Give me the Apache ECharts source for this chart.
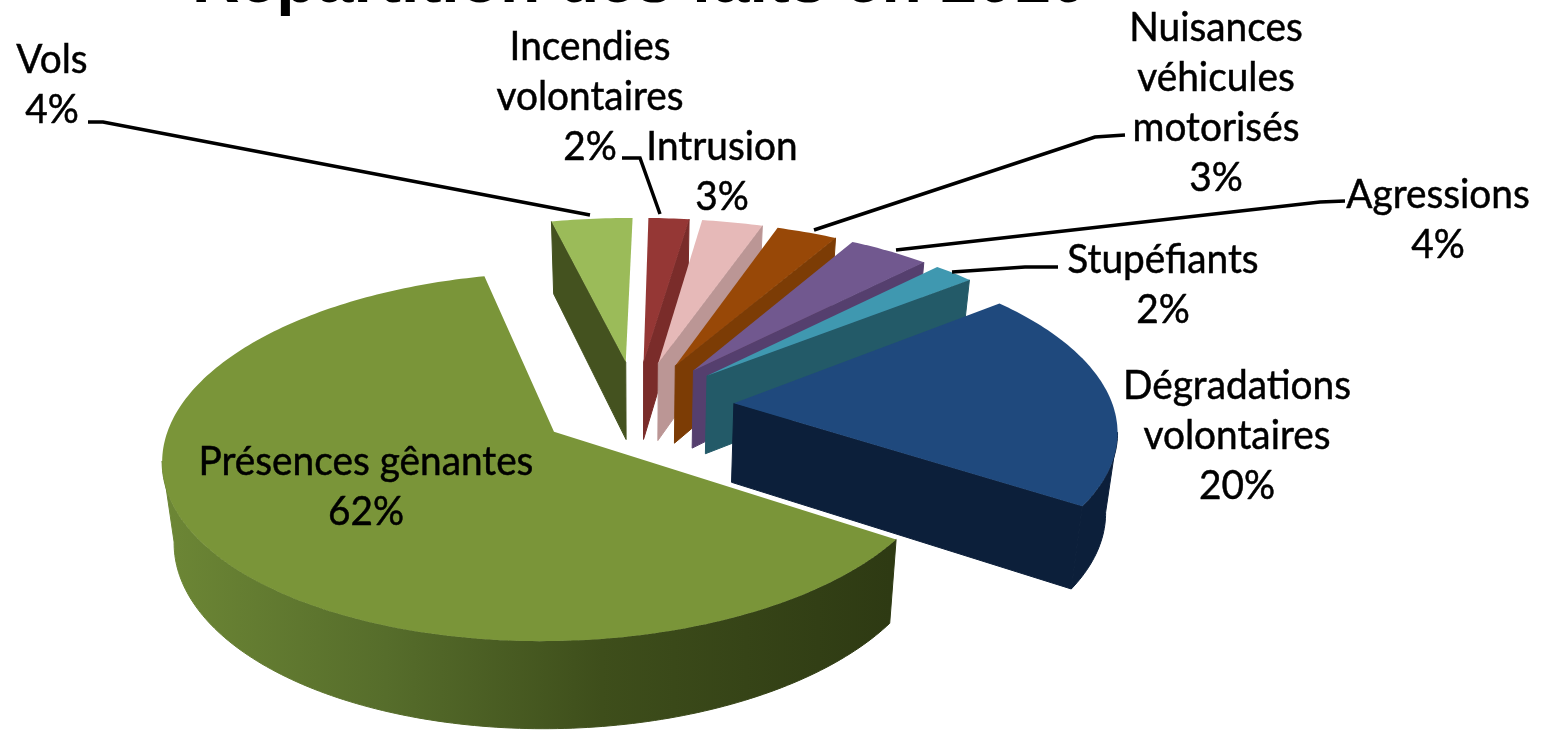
<!DOCTYPE html>
<html lang="fr">
  <head>
    <meta charset="UTF-8" />
    <title>Répartition des faits en 2010</title>
    <script src="https://cdnjs.cloudflare.com/ajax/libs/echarts/6.0.0/echarts.min.js"></script>
    <style>
      html, body { margin: 0; background: #fff; }
      #main { width: 1548px; height: 731px; }
    </style>
  </head>
  <body>
    <div id="main"></div>
    <script>
      const titleText = "Répartition des faits en 2010";
      const categories = ["Vols", "Incendies\nvolontaires", "Intrusion", "Nuisances\nvéhicules\nmotorisés", "Agressions", "Stupéfiants", "Dégradations\nvolontaires", "Présences gênantes"];
      const values = [4, 2, 3, 3, 4, 2, 20, 62];

      const topColors = ["#9bbb59", "#953735", "#e6b9b8", "#984807", "#71588f", "#3f98b0", "#1f497d", "#7a9539"];
      const sideColors = ["#44521f", "#7a2c2a", "#bb9695", "#7c3c05", "#553f6e", "#235a68", "#0c1f3a", "#4a5c24"];

      // label centres and leader lines, in page pixels
      const labelPos = [[52, 85], [590, 97], [722, 172], [1216, 103], [1438, 220], [1163, 285], [1237, 436], [366, 487]];
      const leaders = [
        [[88, 122], [103, 122], [590, 215]],
        [[622, 158], [640, 158], [660, 214]],
        null,
        [[1125, 135], [1095, 137], [814, 230]],
        [[1345, 201], [1320, 202], [896, 250]],
        [[1058, 267], [1025, 267], [952, 272]],
        null,
        null,
      ];

      // perspective model of the tilted pie, radius 1 on the ground plane
      const X0 = 636, Y0 = 405.4, SY = 173.9, SX = 378.9, K = 0.133;
      const EXPLODE = 0.259, START = -13.4, DEPTH = 79;

      const total = values.reduce((a, b) => a + b, 0);
      const edges = [0];
      values.forEach((v) => edges.push(edges[edges.length - 1] + v));
      const rad = (d) => (d * Math.PI) / 180;
      const angle = (c) => START + (360 * c) / total;

      function project(i, th, r) {
        const mid = rad(angle((edges[i] + edges[i + 1]) / 2));
        const u = EXPLODE * Math.sin(mid) + r * Math.sin(rad(th));
        const v = EXPLODE * Math.cos(mid) + r * Math.cos(rad(th));
        const s = 1 / (1 + K * v);
        return [X0 + SX * u * s, Y0 - SY * v * s];
      }

      // same point on the bottom of the slab
      function drop(q) {
        const h = DEPTH * (1 - (0.08 * (Y0 - q[1])) / SY);
        return [q[0] - (q[0] - 640) * 0.025, q[1] + h];
      }

      function renderSlice(params) {
        const i = params.dataIndex;
        const t0 = angle(edges[i]), t1 = angle(edges[i + 1]);
        const n = Math.ceil(t1 - t0) + 1;
        const ths = [];
        for (let j = 0; j < n; j++) ths.push(t0 + ((t1 - t0) * j) / (n - 1));
        const apex = project(i, 0, 0);
        const rim = ths.map((t) => project(i, t, 1));
        const first = rim[0], last = rim[n - 1];
        const children = [];
        const wall = (pts, fill) =>
          children.push({ type: "polygon", shape: { points: pts }, style: { fill: fill, stroke: fill, lineWidth: 1 } });

        if (first[0] < apex[0]) wall([apex, first, drop(first), drop(apex)], sideColors[i]);
        if (last[0] > apex[0] + 15) wall([apex, last, drop(last), drop(apex)], sideColors[i]);

        // outer wall, only the part that faces the viewer
        const front = rim.filter((q, j) => (j < n - 1 && rim[j + 1][0] < q[0]) || (j > 0 && q[0] < rim[j - 1][0]));
        if (front.length) {
          const fill = i === 7
            ? new echarts.graphic.LinearGradient(170, 0, 890, 0, [
                { offset: 0, color: "#6c8635" },
                { offset: 0.3, color: "#566d2b" },
                { offset: 0.6, color: "#3e4e1b" },
                { offset: 1, color: "#2e3a13" },
              ], true)
            : sideColors[i];
          wall(front.concat(front.map(drop).reverse()), fill);
        }
        children.push({ type: "polygon", shape: { points: [apex].concat(rim) }, style: { fill: topColors[i] } });
        return { type: "group", children: children };
      }

      function renderLabel(params) {
        const i = params.dataIndex;
        const children = [];
        if (leaders[i]) {
          children.push({ type: "polyline", shape: { points: leaders[i] }, style: { fill: null, stroke: "#000", lineWidth: 3.5 } });
        }
        children.push({
          type: "text",
          x: labelPos[i][0],
          y: labelPos[i][1],
          scaleX: 0.97,
          style: {
            text: categories[i] + "\n" + values[i] + "%",
            font: "40px Lato",
            lineHeight: 50,
            fill: "#000",
            stroke: "#000",
            lineWidth: 0.5,
            align: "center",
            verticalAlign: "middle",
          },
        });
        return { type: "group", children: children };
      }

      var myChart = echarts.init(document.getElementById("main"));
      myChart.setOption({
        animation: false,
        title: {
          text: titleText,
          left: 187,
          top: -54,
          textStyle: { fontFamily: "Liberation Sans", fontWeight: "bold", fontSize: 66, color: "#000" },
        },
        series: [
          { type: "custom", coordinateSystem: "none", renderItem: renderSlice, data: values, silent: true },
          { type: "custom", coordinateSystem: "none", renderItem: renderLabel, data: values, silent: true, z: 5 },
        ],
      });
    </script>
  </body>
</html>
